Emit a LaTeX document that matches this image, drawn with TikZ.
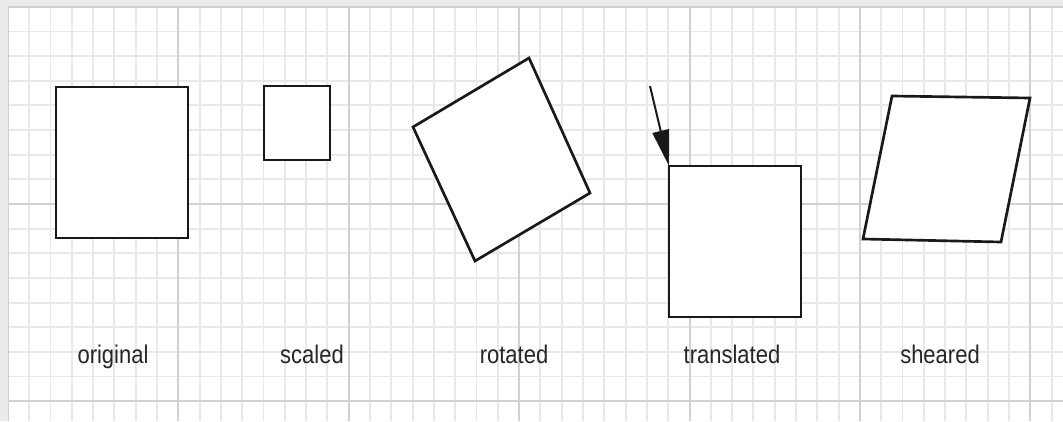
\documentclass[tikz,border=0pt]{standalone}
\usepackage{fontspec}
\setmainfont{Liberation Sans}
\usetikzlibrary{arrows.meta}
\begin{document}
\begin{tikzpicture}[x=0.75pt,y=-0.75pt,
  minorline/.style={draw=black!9, line width=1.4pt},
  majorline/.style={draw=black!18, line width=1.5pt},
  shapebox/.style={draw=black!90, line width=2pt, fill=white},
  rectbox/.style={shapebox, inner sep=0pt, outer sep=0pt},
  lbl/.style={font=\fontsize{16.5}{18}\selectfont, text=black!85, anchor=base, yscale=1.16, inner sep=0pt},
  pointer/.style={draw=black!90, line width=1.5pt, -{Triangle[length=27pt,width=12.5pt]}}
]
\useasboundingbox (0,0) rectangle (1063,421);
\fill[black!8] (0,0) rectangle (1063,421);
\fill[white] (8,6.8) rectangle (1063,421);
\begin{scope}
  \clip (8,6.8) rectangle (1063,421);
  \foreach \k in {0,...,49}
    \draw[minorline] ({7.9+21.3*\k},6.8) -- ({7.9+21.3*\k},421);
  \foreach \k in {0,...,17}
    \draw[minorline] (8,{6.8+24.65*\k}) -- (1063,{6.8+24.65*\k});
  \foreach \xx in {7.9,178.3,348.7,519.1,689.5,859.9,1030.3}
    \draw[majorline] (\xx,6.8) -- (\xx,421);
  \foreach \yy in {6.8,204,401.2}
    \draw[majorline] (8,\yy) -- (1063,\yy);
\end{scope}

% original
\node[rectbox, minimum width=99pt, minimum height=113.25pt] (orig) at (122,162.5) {};
% scaled
\node[rectbox, minimum width=49.5pt, minimum height=55.5pt] (scal) at (297,123) {};
% rotated
\coordinate (r1) at (529,58);
\coordinate (r2) at (590,193);
\coordinate (r3) at (475,261);
\coordinate (r4) at (413,127);
\draw[shapebox, line join=miter] (r1) -- (r2) -- (r3) -- (r4) -- cycle;
% translated
\node[rectbox, minimum width=99pt, minimum height=113.25pt] (trans) at (735,241.5) {};
\coordinate (tail) at (650,86);
\draw[pointer] (tail) -- (trans.north west);
% sheared
\coordinate (s1) at (892,96);
\coordinate (s2) at (1030,98);
\coordinate (s3) at (1001,242);
\coordinate (s4) at (863,239);
\draw[shapebox, line join=miter] (s1) -- (s2) -- (s3) -- (s4) -- cycle;

% labels
\node[lbl] (lorig) at (113,363.5) {original};
\node[lbl] (lscal) at (312,363.5) {scaled};
\node[lbl] (lrot) at (514,363.5) {rotated};
\node[lbl] (ltrans) at (732,363.5) {translated};
\node[lbl] (lshear) at (940,363.5) {sheared};
\end{tikzpicture}
\end{document}
